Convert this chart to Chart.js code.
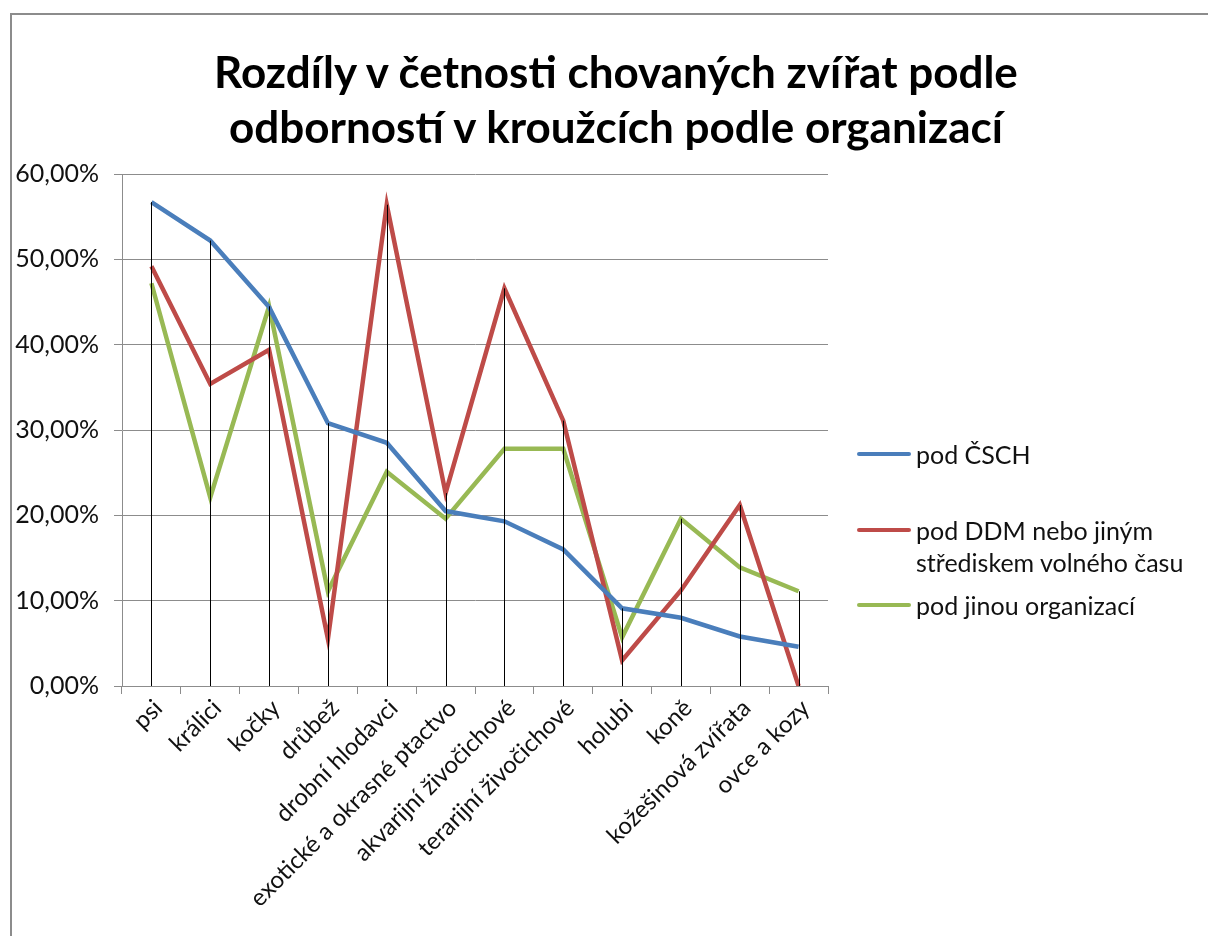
<!DOCTYPE html>
<html lang="cs">
<head>
<meta charset="utf-8">
<title>Rozdíly v četnosti chovaných zvířat</title>
<script src="https://cdn.jsdelivr.net/npm/chart.js@4"></script>
<style>
  html, body { margin: 0; padding: 0; background: #fff; overflow: hidden; }
  #frame {
    position: absolute; left: 10px; top: 13px; width: 1400px; height: 1100px;
    border-left: 2px solid #8c8c8c; border-top: 2px solid #8c8c8c;
  }
  #wrap { position: absolute; left: 0; top: 0; width: 1208px; height: 936px; }
  #title {
    position: absolute; left: 0; top: 44px; width: 1232px; text-align: center;
    font-family: Lato, sans-serif; font-weight: bold; font-size: 44px; line-height: 55px; color: #000;
  }
  .lg { position: absolute; left: 857px; font-family: Lato, sans-serif; font-size: 25px; color: #111; }
  .lg i { position: absolute; left: 0; width: 54px; height: 4px; border-radius: 2px; }
  .lg span { position: absolute; left: 59px; white-space: nowrap; line-height: 32px; }
</style>
</head>
<body>
<div id="frame"></div>
<div id="wrap"><canvas id="chart" width="1208" height="936"></canvas></div>
<div id="title"></div>
<div id="legend"></div>

<script>
// ============ DATA ============
const TITLE = ['Rozdíly v četnosti chovaných zvířat podle', 'odborností v kroužcích podle organizací'];

const categories = [
  'psi', 'králici', 'kočky', 'drůbež', 'drobní hlodavci', 'exotické a okrasné ptactvo',
  'akvarijní živočichové', 'terarijní živočichové', 'holubi', 'koně', 'kožešinová zvířata', 'ovce a kozy'
];

// values in %
const csch  = [56.7, 52.2, 44.4, 30.8, 28.5, 20.5, 19.3, 16.0, 9.1, 8.0, 5.8, 4.6];
const ddm   = [49.2, 35.4, 39.4, 5.5, 56.4, 22.6, 46.6, 31.1, 3.0, 11.2, 21.2, 0.0];
const jina  = [47.2, 22.1, 44.5, 11.1, 25.1, 19.6, 27.8, 27.8, 5.7, 19.6, 13.9, 11.1];

const seriesNames = ['pod ČSCH', 'pod DDM nebo jiným\nstřediskem volného času', 'pod jinou organizací'];
const seriesColors = ['#4a7ebb', '#be4b48', '#98b954'];

const yTicks = [0, 10, 20, 30, 40, 50, 60];

// ============ HELPERS ============
const fmtPct = (v) => v.toFixed(2).replace('.', ',') + '%';
const FONT = 'Lato, "Noto Sans", sans-serif';

// drop lines from the highest point of each category down to the axis
const dropLines = {
  id: 'dropLines',
  afterDatasetsDraw(chart) {
    const { ctx, scales: { x, y } } = chart;
    ctx.save();
    ctx.strokeStyle = '#000';
    ctx.lineWidth = 1;
    categories.forEach((c, i) => {
      const top = Math.max(csch[i], ddm[i], jina[i]);
      const px = Math.round(x.getPixelForValue(i)) + 0.5;
      ctx.beginPath();
      ctx.moveTo(px, y.getPixelForValue(top));
      ctx.lineTo(px, y.getPixelForValue(0));
      ctx.stroke();
    });
    ctx.restore();
  }
};

// ============ CHART ============
const data = [csch, ddm, jina];
new Chart(document.getElementById('chart').getContext('2d'), {
  type: 'line',
  data: {
    labels: categories,
    datasets: data.map((d, i) => ({
      label: seriesNames[i],
      data: d,
      borderColor: seriesColors[i],
      backgroundColor: seriesColors[i],
      borderWidth: 4.5,
      pointRadius: 0,
      tension: 0,
      fill: false,
    }))
  },
  options: {
    responsive: false,
    animation: false,
    layout: { padding: { left: 0, right: 380, top: 174, bottom: 0 } },
    plugins: {
      legend: { display: false },
      tooltip: { enabled: false },
      title: { display: false },
    },
    scales: {
      x: {
        offset: true,
        grid: { display: true, drawOnChartArea: false, offset: true, color: '#8c8c8c', tickLength: 8 },
        border: { color: '#8c8c8c', width: 1 },
        ticks: {
          color: '#111', font: { family: FONT, size: 24 },
          minRotation: 45, maxRotation: 45, autoSkip: false, padding: 0, labelOffset: 7,
        },
        afterFit(scale) { scale.height = 250; },
      },
      y: {
        min: 0, max: 60,
        afterBuildTicks(scale) { scale.ticks = yTicks.map(v => ({ value: v })); },
        grid: { color: '#8c8c8c', tickLength: 8 },
        border: { color: '#8c8c8c', width: 1 },
        ticks: { color: '#111', font: { family: FONT, size: 25 }, padding: 15, callback: (v) => fmtPct(v) },
        afterFit(scale) { scale.width = 122; },
      }
    }
  },
  plugins: [dropLines]
});

// ============ TITLE & LEGEND ============
document.getElementById('title').innerHTML = TITLE.join('<br>');

const legendTops = [438, 514, 589];
document.getElementById('legend').innerHTML = seriesNames.map((name, i) => `
  <div class="lg" style="top:${legendTops[i]}px;">
    <i style="top:14px;background:${seriesColors[i]};"></i>
    <span style="top:0;">${name.replace('\n', '<br>')}</span>
  </div>
`).join('');
</script>
</body>
</html>
